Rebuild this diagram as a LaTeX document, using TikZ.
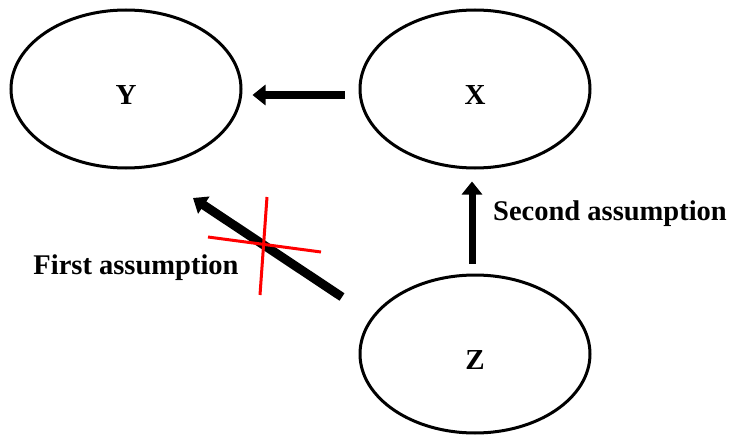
\documentclass[tikz,border=0pt]{standalone}
\usepackage{fontspec}
\setmainfont{Liberation Serif}
\usetikzlibrary{shapes.geometric,arrows.meta}
\begin{document}
\begin{tikzpicture}[x=1pt,y=-1pt,
  var/.style={ellipse,draw=black,line width=3pt,minimum width=230pt,minimum height=158pt,inner sep=0pt,
    text height=31pt,text depth=0pt,font=\fontsize{29}{32}\selectfont\bfseries},
  lbl/.style={font=\fontsize{28.5}{32}\selectfont\bfseries,inner sep=0pt,anchor=base},
  bigarrow/.style={line width=8pt,-{Triangle[width=20pt,length=13pt]}},
  cross/.style={draw=red,line width=3pt}]
\useasboundingbox (0,0) rectangle (729,436);
\node[var] (Y) at (126,89) {Y};
\node[var] (X) at (475,89) {X};
\node[var] (Z) at (475,354) {Z};
\draw[bigarrow] ([xshift=-14pt,yshift=-6pt]X.west) -- ([xshift=10pt,yshift=-6pt]Y.east);
\draw[bigarrow,line width=7pt] ([xshift=-3pt,yshift=10pt]Z.north) -- ([xshift=-3pt,yshift=-12pt]X.south);
\coordinate (d1) at (342,297);
\coordinate (d2) at (193,198);
\draw[bigarrow,line width=9pt] (d1) -- (d2);
\coordinate (c1) at (267,197);
\coordinate (c2) at (260,295);
\coordinate (c3) at (208,237);
\coordinate (c4) at (321,252);
\draw[cross] (c1) -- (c2);
\draw[cross] (c3) -- (c4);
\node[lbl] (first) at (136,274) {First assumption};
\node[lbl] (second) at (610,220) {Second assumption};
\end{tikzpicture}
\end{document}
